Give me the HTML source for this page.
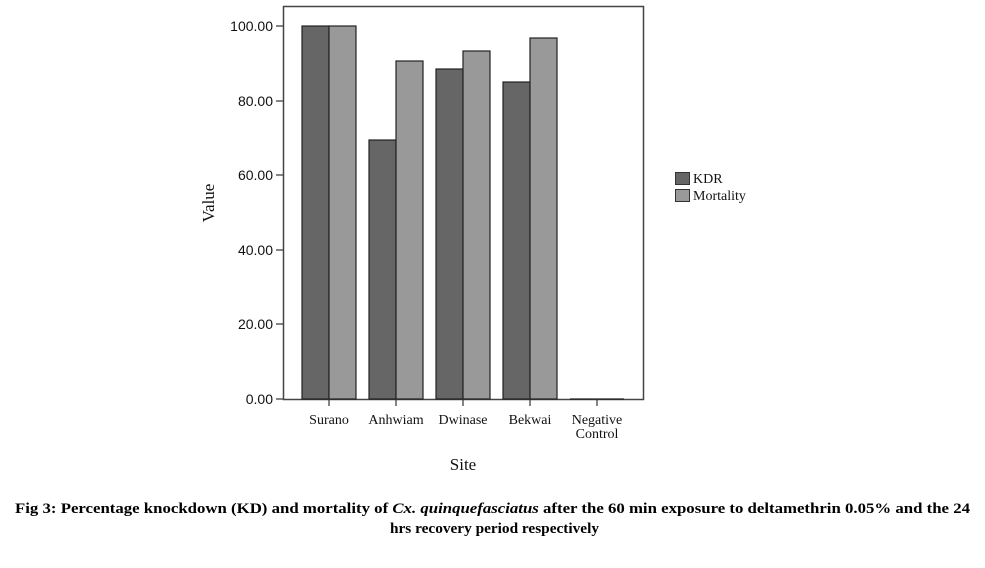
<!DOCTYPE html>
<html><head><meta charset="utf-8"><style>body{margin:0;background:#fff}svg{display:block}</style></head>
<body>
<svg width="985" height="568" xmlns="http://www.w3.org/2000/svg" font-family="Liberation Serif, serif">
<rect x="0" y="0" width="985" height="568" fill="#fff"/>
<rect x="283.5" y="6.5" width="360" height="393" fill="#fff" stroke="#444" stroke-width="1.5"/>
<g stroke="#222" stroke-width="1.2">
<rect x="302" y="26" width="27" height="373" fill="#666"/>
<rect x="329" y="26" width="27" height="373" fill="#999"/>
<rect x="369" y="140" width="27" height="259" fill="#666"/>
<rect x="396" y="61" width="27" height="338" fill="#999"/>
<rect x="436" y="69" width="27" height="330" fill="#666"/>
<rect x="463" y="51" width="27" height="348" fill="#999"/>
<rect x="503" y="82" width="27" height="317" fill="#666"/>
<rect x="530" y="38" width="27" height="361" fill="#999"/>
<line x1="570" y1="399" x2="624" y2="399"/>
</g>
<g stroke="#333" stroke-width="1.2">
<line x1="276" y1="26" x2="283" y2="26"/><line x1="276" y1="101" x2="283" y2="101"/>
<line x1="276" y1="175" x2="283" y2="175"/><line x1="276" y1="250" x2="283" y2="250"/>
<line x1="276" y1="324" x2="283" y2="324"/><line x1="276" y1="399" x2="283" y2="399"/>
<line x1="329" y1="399" x2="329" y2="406"/><line x1="396" y1="399" x2="396" y2="406"/>
<line x1="463" y1="399" x2="463" y2="406"/><line x1="530" y1="399" x2="530" y2="406"/>
<line x1="597" y1="399" x2="597" y2="406"/>
</g>
<g font-family="Liberation Sans, sans-serif" font-size="14" fill="#111" text-anchor="end">
<text x="273" y="31">100.00</text><text x="273" y="106">80.00</text>
<text x="273" y="180">60.00</text><text x="273" y="255">40.00</text>
<text x="273" y="329">20.00</text><text x="273" y="404">0.00</text>
</g>
<g font-size="14" fill="#111" text-anchor="middle">
<text x="329" y="424">Surano</text><text x="396" y="424">Anhwiam</text>
<text x="463" y="424">Dwinase</text><text x="530" y="424">Bekwai</text>
<text x="597" y="424">Negative</text><text x="597" y="438">Control</text>
<text x="463" y="470" font-size="17">Site</text>
<text transform="translate(214,203) rotate(-90)" font-size="17">Value</text>
</g>
<rect x="675.5" y="172.5" width="14" height="12" fill="#666" stroke="#333"/>
<rect x="675.5" y="189.5" width="14" height="12" fill="#999" stroke="#333"/>
<g font-size="14" fill="#111"><text x="693" y="183">KDR</text><text x="693" y="200">Mortality</text></g>
<g font-size="15" font-weight="bold" fill="#000">
<text x="15" y="513" textLength="955" lengthAdjust="spacingAndGlyphs">Fig 3: Percentage knockdown (KD) and mortality of <tspan font-style="italic">Cx. quinquefasciatus</tspan> after the 60 min exposure to deltamethrin 0.05% and the 24</text>
<text x="390" y="533" textLength="209" lengthAdjust="spacingAndGlyphs">hrs recovery period respectively</text>
</g>
</svg>
</body></html>
